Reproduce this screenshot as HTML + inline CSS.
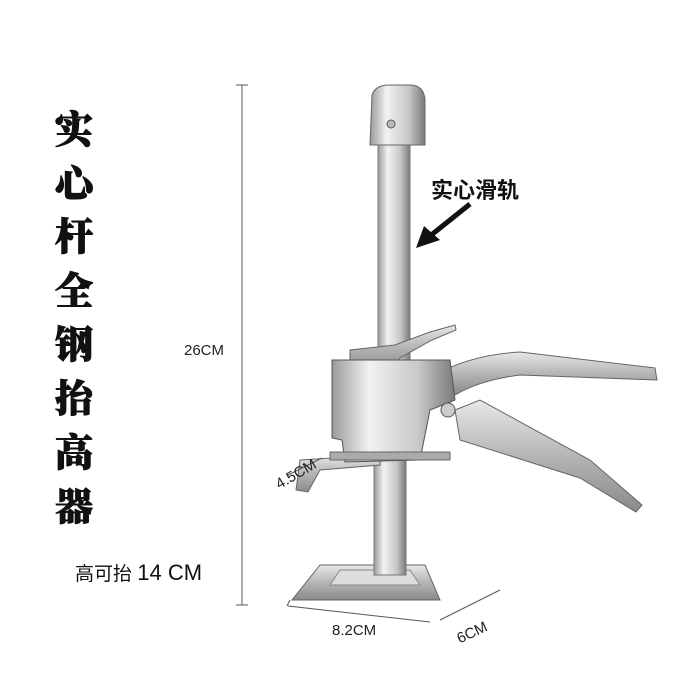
<!DOCTYPE html>
<html><head><meta charset="utf-8"><style>
html,body{margin:0;padding:0;background:#fff;}
svg{display:block}
</style></head><body>
<svg width="700" height="700" viewBox="0 0 700 700" xmlns="http://www.w3.org/2000/svg">
<defs>
<linearGradient id="m" x1="0" x2="1" y1="0" y2="0">
<stop offset="0" stop-color="#9a9a9a"/><stop offset="0.3" stop-color="#f2f2f2"/><stop offset="0.7" stop-color="#c8c8c8"/><stop offset="1" stop-color="#7a7a7a"/>
</linearGradient>
<linearGradient id="v" x1="0" x2="0" y1="0" y2="1">
<stop offset="0" stop-color="#e8e8e8"/><stop offset="0.5" stop-color="#b5b5b5"/><stop offset="1" stop-color="#8a8a8a"/>
</linearGradient>
</defs>
<g font-family="'Noto Serif CJK SC',serif" font-weight="900" font-size="38" fill="#111" text-anchor="middle" stroke="#111" stroke-width="1">
<text x="74" y="143">实</text><text x="74" y="197">心</text><text x="74" y="250">杆</text><text x="74" y="304">全</text><text x="74" y="358">钢</text><text x="74" y="412">抬</text><text x="74" y="466">高</text><text x="74" y="520">器</text>
</g>
<line x1="242" y1="85" x2="242" y2="605" stroke="#555" stroke-width="1"/>
<line x1="236" y1="85" x2="248" y2="85" stroke="#555"/><line x1="236" y1="605" x2="248" y2="605" stroke="#555"/>
<text x="184" y="355" font-family="'Liberation Sans',sans-serif" font-size="15" fill="#222">26CM</text>
<text x="75" y="580" font-family="'Liberation Sans','Noto Sans CJK SC',sans-serif" font-size="19" fill="#111">高可抬 <tspan font-size="22">14 CM</tspan></text>
<!-- base -->
<polygon points="292,600 440,600 425,565 320,565" fill="url(#v)" stroke="#666"/>
<polygon points="330,585 420,585 410,570 340,570" fill="#ddd" stroke="#888"/>
<rect x="374" y="450" width="32" height="125" fill="url(#m)" stroke="#777"/>
<rect x="378" y="145" width="32" height="220" fill="url(#m)" stroke="#777"/>
<path d="M370,145 L372,95 Q375,85 390,85 L410,85 Q424,85 425,100 L425,145 Z" fill="url(#m)" stroke="#666"/>
<circle cx="391" cy="124" r="4" fill="#bbb" stroke="#555"/>
<path d="M350,365 L350,350 L395,345 L430,332 L455,325 L456,330 L432,340 L400,358 L390,370 Z" fill="url(#v)" stroke="#666"/>
<path d="M300,460 L380,455 L380,465 L320,470 L308,492 L296,490 Z" fill="url(#v)" stroke="#666"/>
<path d="M435,375 Q470,355 520,352 L655,368 L657,380 L520,375 Q480,380 455,395 Z" fill="url(#v)" stroke="#666"/>
<path d="M455,410 L480,400 L590,460 L642,505 L636,512 L580,478 L460,440 Z" fill="url(#v)" stroke="#666"/>
<path d="M332,360 L450,360 L455,400 L430,410 L420,460 L345,462 L342,440 L332,438 Z" fill="url(#m)" stroke="#555"/>
<circle cx="448" cy="410" r="7" fill="#ccc" stroke="#555"/>
<rect x="330" y="452" width="120" height="8" fill="#aaa" stroke="#666"/>
<line x1="290" y1="600" x2="287" y2="606" stroke="#555"/>
<line x1="288" y1="606" x2="430" y2="622" stroke="#555"/>
<text x="332" y="635" font-family="'Liberation Sans',sans-serif" font-size="15" fill="#222">8.2CM</text>
<line x1="440" y1="620" x2="500" y2="590" stroke="#555"/>
<text x="455" y="638" font-family="'Liberation Sans',sans-serif" font-size="15" fill="#222" transform="rotate(-25 470 630)">6CM</text>
<line x1="288" y1="475" x2="322" y2="458" stroke="#555"/>
<text x="266" y="480" font-family="'Liberation Sans',sans-serif" font-size="15" fill="#222" transform="rotate(-30 290 460)">4.5CM</text>
<text x="431" y="198" font-family="'Noto Sans CJK SC',sans-serif" font-weight="bold" font-size="22" fill="#111">实心滑轨</text>
<line x1="470" y1="204" x2="430" y2="236" stroke="#111" stroke-width="5"/>
<polygon points="416,248 424,226 440,240" fill="#111"/>
</svg>
</body></html>
